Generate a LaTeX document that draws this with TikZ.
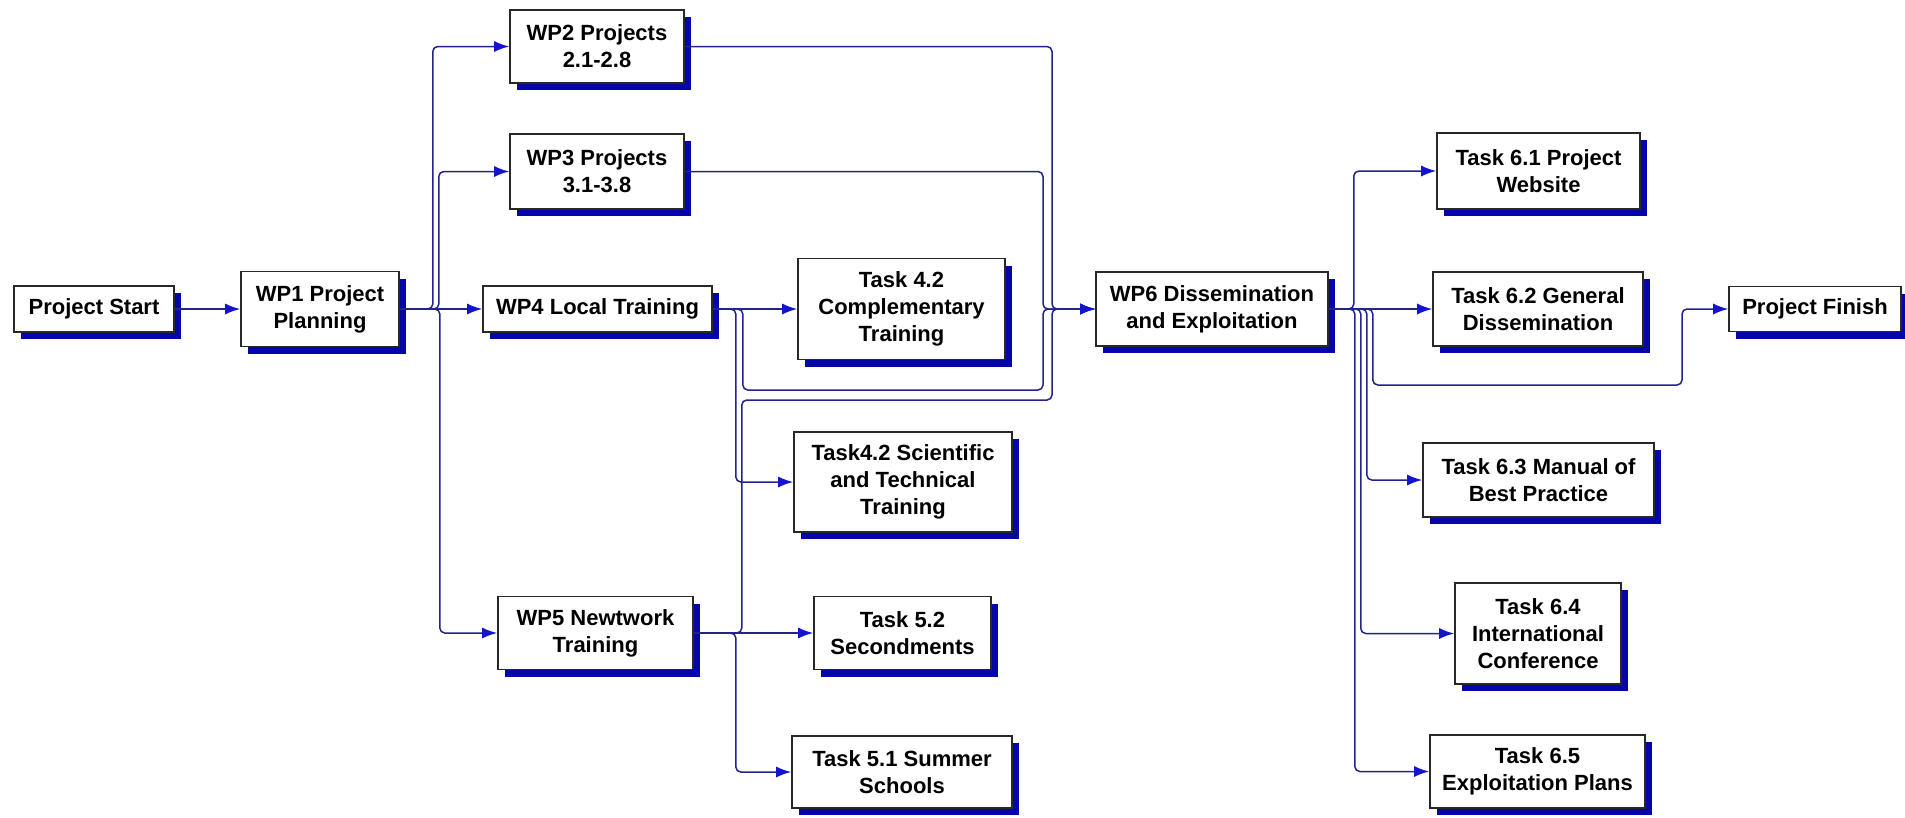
\documentclass[tikz,border=0pt]{standalone}
\usepackage{fontspec}
\setmainfont{Liberation Sans}
\usetikzlibrary{arrows.meta,shadows,calc}
\definecolor{linecol}{RGB}{35,35,140}
\definecolor{arrcol}{RGB}{20,20,205}
\definecolor{shadcol}{RGB}{5,5,170}
\definecolor{boxline}{RGB}{40,40,40}
\tikzset{
  box/.style={draw=boxline, line width=1.6pt, fill=white, align=center,
    font=\fontsize{22}{27}\selectfont\bfseries, inner sep=0pt,
    drop shadow={shadow xshift=7pt, shadow yshift=-7pt, fill=shadcol, opacity=1}},
  conn/.style={draw=linecol, line width=1.5pt, rounded corners=5pt,
    -{Latex[length=15pt,width=11pt,color=arrcol]}}
}
\begin{document}
\begin{tikzpicture}[x=1pt,y=-1pt]
\useasboundingbox (0,0) rectangle (1905,817);
\fill[white] (0,0) rectangle (1905,817);
% channel coordinates
\coordinate (m2) at (1052,0);
\coordinate (m3) at (1043,0);
\coordinate (m6) at (1682,0);
\coordinate (h4) at (0,390);
\coordinate (h5) at (0,400);
\coordinate (hp) at (0,385);
% nodes
\node[box, minimum width=160pt, minimum height=46pt] (ps) at (94,309) {Project Start};
\node[box, minimum width=158pt, minimum height=75pt] (wp1) at (320,309) {WP1 Project\\Planning};
\node[box, minimum width=174pt, minimum height=73pt] (wp2) at (597,46.5) {WP2 Projects\\2.1-2.8};
\node[box, minimum width=174pt, minimum height=75pt] (wp3) at (597,171.5) {WP3 Projects\\3.1-3.8};
\node[box, minimum width=229pt, minimum height=46pt] (wp4) at (597.5,309) {WP4 Local Training};
\node[box, minimum width=207pt, minimum height=101pt] (t42c) at (901.5,309) {Task 4.2\\Complementary\\Training};
\node[box, minimum width=218pt, minimum height=100pt] (t42s) at (903,482) {Task4.2 Scientific\\and Technical\\Training};
\node[box, minimum width=195pt, minimum height=73pt] (wp5) at (595.5,633) {WP5 Newtwork\\Training};
\node[box, minimum width=177pt, minimum height=73pt] (t52) at (902.5,633) {Task 5.2\\Secondments};
\node[box, minimum width=220pt, minimum height=72pt] (t51) at (902,772) {Task 5.1 Summer\\Schools};
\node[box, minimum width=232pt, minimum height=74pt] (wp6) at (1212,309) {WP6 Dissemination\\and Exploitation};
\node[box, minimum width=203pt, minimum height=76pt] (t61) at (1538.5,171) {Task 6.1 Project\\Website};
\node[box, minimum width=210pt, minimum height=74pt] (t62) at (1538,309) {Task 6.2 General\\Dissemination};
\node[box, minimum width=172pt, minimum height=45pt] (pf) at (1815,309) {Project Finish};
\node[box, minimum width=231pt, minimum height=74pt] (t63) at (1538.5,480) {Task 6.3 Manual of\\Best Practice};
\node[box, minimum width=166pt, minimum height=101pt] (t64) at (1538,633.5) {Task 6.4\\International\\Conference};
\node[box, minimum width=215pt, minimum height=73pt] (t65) at (1537.5,771.5) {Task 6.5\\Exploitation Plans};
% connectors
\draw[conn] (ps.east) -- (wp1.west);
\draw[conn] (wp1.east) -- ++(33,0) |- (wp2.west);
\draw[conn] (wp1.east) -- ++(39,0) |- (wp3.west);
\draw[conn] (wp1.east) -- (wp4.west);
\draw[conn] (wp1.east) -- ++(40,0) |- (wp5.west);
\draw[conn] (wp4.east) -- (t42c.west);
\draw[conn] (wp4.east) -- ++(23,0) |- (t42s.west);
\draw[conn] (wp4.east) -- ++(30,0) |- (h4 -| m3) -- (m3 |- wp6.west) -- (wp6.west);
\draw[conn] (wp5.east) -- (t52.west);
\draw[conn] (wp5.east) -- ++(42,0) |- (t51.west);
\draw[conn] (wp5.east) -- ++(48,0) |- (h5 -| m2) -- (m2 |- wp6.west) -- (wp6.west);
\draw[conn] (wp2.east) -- (wp2.east -| m2) -- (m2 |- wp6.west) -- (wp6.west);
\draw[conn] (wp3.east) -- (wp3.east -| m3) -- (m3 |- wp6.west) -- (wp6.west);
\draw[conn] (wp6.east) -- ++(25,0) |- (t61.west);
\draw[conn] (wp6.east) -- (t62.west);
\draw[conn] (wp6.east) -- ++(44,0) |- (hp -| m6) -- (m6 |- pf.west) -- (pf.west);
\draw[conn] (wp6.east) -- ++(38,0) |- (t63.west);
\draw[conn] (wp6.east) -- ++(32,0) |- (t64.west);
\draw[conn] (wp6.east) -- ++(26,0) |- (t65.west);
\end{tikzpicture}
\end{document}
